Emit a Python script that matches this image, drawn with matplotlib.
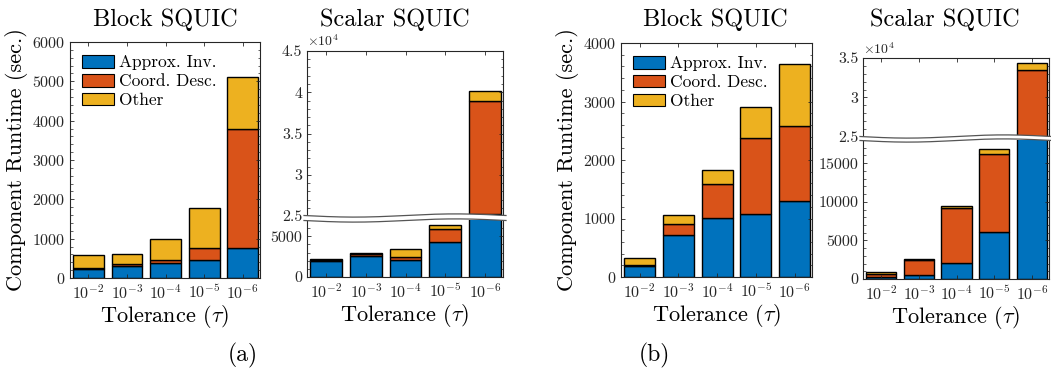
import numpy as np
import matplotlib
matplotlib.use("Agg")
import matplotlib.pyplot as plt
from matplotlib.ticker import AutoMinorLocator, FixedLocator, MultipleLocator
from matplotlib.patches import Polygon, Patch

plt.rcParams['font.family'] = 'serif'
plt.rcParams['font.serif'] = ['cmr10', 'DejaVu Serif']
plt.rcParams['mathtext.fontset'] = 'cm'
plt.rcParams['axes.formatter.use_mathtext'] = True
plt.rcParams['axes.unicode_minus'] = False

# ---------------- data ----------------
tol_labels = [r'$10^{-2}$', r'$10^{-3}$', r'$10^{-4}$', r'$10^{-5}$', r'$10^{-6}$']
components = ['Approx. Inv.', 'Coord. Desc.', 'Other']

# (a)
block_a_inv = [230, 300, 380, 460, 760]
block_a_cd = [20, 50, 70, 300, 3020]
block_a_other = [330, 260, 540, 1030, 1340]

scalar_a_inv = [1950, 2600, 2100, 4300, 25300]
scalar_a_cd = [120, 200, 350, 1550, 13600]
scalar_a_other = [100, 120, 950, 500, 1300]

# (b)
block_b_inv = [180, 720, 1015, 1070, 1305]
block_b_cd = [30, 190, 575, 1305, 1275]
block_b_other = [120, 155, 245, 530, 1065]

scalar_b_inv = [260, 470, 2070, 6030, 21000]
scalar_b_cd = [430, 1950, 7100, 10170, 12440]
scalar_b_other = [170, 170, 260, 600, 930]

colors = ['#0072BD', '#D95319', '#EDB120']
tick_color = '#262626'

W, H = 1051, 379
fig = plt.figure(figsize=(W / 100, H / 100), dpi=100)


def fax(l, t, r, b):
    return fig.add_axes([l / W, 1 - b / H, (r - l) / W, (b - t) / H])


def ftext(px, py, s, **kw):
    return fig.text(px / W, 1 - py / H, s, **kw)


x = np.arange(1, 6)
bw = 0.8


def draw_bars(ax, inv, cd, other):
    inv = np.array(inv, float)
    cd = np.array(cd, float)
    other = np.array(other, float)
    ax.bar(x, inv, bw, color=colors[0], edgecolor='black', linewidth=1.0)
    ax.bar(x, cd, bw, bottom=inv, color=colors[1], edgecolor='black', linewidth=1.0)
    ax.bar(x, other, bw, bottom=inv + cd, color=colors[2], edgecolor='black', linewidth=1.0)


def style(ax, xlabels=True, top_ticks=True, bottom_ticks=True):
    ax.set_xlim(0.52, 5.45)
    ax.set_xticks(x)
    if xlabels:
        ax.set_xticklabels(tol_labels)
    else:
        ax.set_xticklabels([])
    ax.tick_params(axis='both', direction='in', colors=tick_color, labelsize=11.5,
                   length=3, width=0.6, top=top_ticks, bottom=bottom_ticks,
                   right=True, left=True)
    ax.tick_params(axis='y', which='minor', direction='in', length=1.8, width=0.5,
                   right=True, left=True, colors=tick_color)
    ax.tick_params(axis='x', which='both', labelcolor=tick_color)
    for s in ax.spines.values():
        s.set_color('#262626')
        s.set_linewidth(0.8)


TITLE_Y = 26
TITLE_FS = 17.5

# ---------- panel 1: Block SQUIC (a) ----------
ax1 = fax(70, 42, 260, 278)
draw_bars(ax1, block_a_inv, block_a_cd, block_a_other)
ax1.set_ylim(0, 6000)
ax1.yaxis.set_major_locator(MultipleLocator(1000))
ax1.yaxis.set_minor_locator(AutoMinorLocator(5))
style(ax1)
ftext(165, TITLE_Y, 'Block SQUIC', fontsize=TITLE_FS, ha='center', va='baseline')
ax1.set_xlabel(r'Tolerance $(\tau)$', fontsize=16, labelpad=1)
ax1.set_ylabel('Component Runtime (sec.)', fontsize=16, labelpad=3)

# ---------- panel 3: Block SQUIC (b) ----------
ax3 = fax(621, 43, 812, 277)
draw_bars(ax3, block_b_inv, block_b_cd, block_b_other)
ax3.set_ylim(0, 4000)
ax3.yaxis.set_major_locator(MultipleLocator(1000))
ax3.yaxis.set_minor_locator(AutoMinorLocator(5))
style(ax3)
ftext(715, TITLE_Y, 'Block SQUIC', fontsize=TITLE_FS, ha='center', va='baseline')
ax3.set_xlabel(r'Tolerance $(\tau)$', fontsize=16, labelpad=1)
ax3.set_ylabel('Component Runtime (sec.)', fontsize=16, labelpad=3)

for ax in (ax1, ax3):
    handles = [Patch(facecolor=c, edgecolor='black', linewidth=0.8) for c in colors]
    ax.legend(handles, components, loc='upper left', frameon=False, fontsize=12.5,
              handlelength=1.8, handleheight=0.75, handletextpad=0.3,
              labelspacing=0.2, borderaxespad=0.0, borderpad=0.0,
              bbox_to_anchor=(0.065, 0.945))


def scalar_panel(l, r, top, ub, lt, bottom, inv, cd, other, up_lim, low_lim,
                 up_ticks, low_ticks, low_minor, title_x):
    axu = fax(l, top, r, ub)
    axl = fax(l, lt, r, bottom)
    for a in (axu, axl):
        draw_bars(a, inv, cd, other)
    axu.set_ylim(*up_lim)
    axl.set_ylim(*low_lim)
    axu.yaxis.set_major_locator(FixedLocator(up_ticks))
    axu.set_yticklabels([('%g' % (v / 1e4)) for v in up_ticks])
    axu.yaxis.set_minor_locator(MultipleLocator(1000))
    axl.yaxis.set_major_locator(FixedLocator(low_ticks))
    axl.set_yticklabels(['%d' % v for v in low_ticks])
    axl.yaxis.set_minor_locator(MultipleLocator(low_minor))
    style(axu, xlabels=False, bottom_ticks=False)
    style(axl, top_ticks=False)
    axu.spines['bottom'].set_visible(False)
    axl.spines['top'].set_visible(False)
    axl.set_xlabel(r'Tolerance $(\tau)$', fontsize=16, labelpad=1)
    ftext(title_x, TITLE_Y, 'Scalar SQUIC', fontsize=TITLE_FS, ha='center', va='baseline')
    axu.text(0.0, 1.01, r'$\times10^4$', transform=axu.transAxes, fontsize=10,
             color=tick_color, ha='left', va='bottom')
    # wavy break band (figure pixel coords)
    xs = np.linspace(l - 3, r + 3, 200)
    ph = (xs - (l - 3)) / (r - l + 6) * 2 * np.pi
    wave = 1.6 * np.sin(ph)
    y1 = ub - 0.5 + wave
    y2 = lt + 0.5 + wave
    pts = np.vstack([np.column_stack([xs, y1]), np.column_stack([xs[::-1], y2[::-1]])])
    pts_fig = np.column_stack([pts[:, 0] / W, 1 - pts[:, 1] / H])
    fig.patches.append(Polygon(pts_fig, closed=True, facecolor='white', edgecolor='none',
                               transform=fig.transFigure, zorder=10))
    for yy in (y1, y2):
        fig.lines.append(plt.Line2D(xs / W, 1 - yy / H, color='#555555', lw=0.9,
                                    transform=fig.transFigure, zorder=11))
    return axu, axl


scalar_panel(307, 503, 51, 216, 220, 277, scalar_a_inv, scalar_a_cd, scalar_a_other,
             (25000, 45000), (0, 7000), [25000, 30000, 35000, 40000, 45000], [0, 5000], 1000,
             395)

scalar_panel(863, 1049, 58, 137, 140, 279, scalar_b_inv, scalar_b_cd, scalar_b_other,
             (25000, 35000), (0, 18000), [25000, 30000, 35000], [0, 5000, 10000, 15000], 1000,
             945)

ftext(243, 355, '(a)', fontsize=17, ha='center', va='center')
ftext(654, 355, '(b)', fontsize=17, ha='center', va='center')

fig.savefig('out.png', dpi=100)
